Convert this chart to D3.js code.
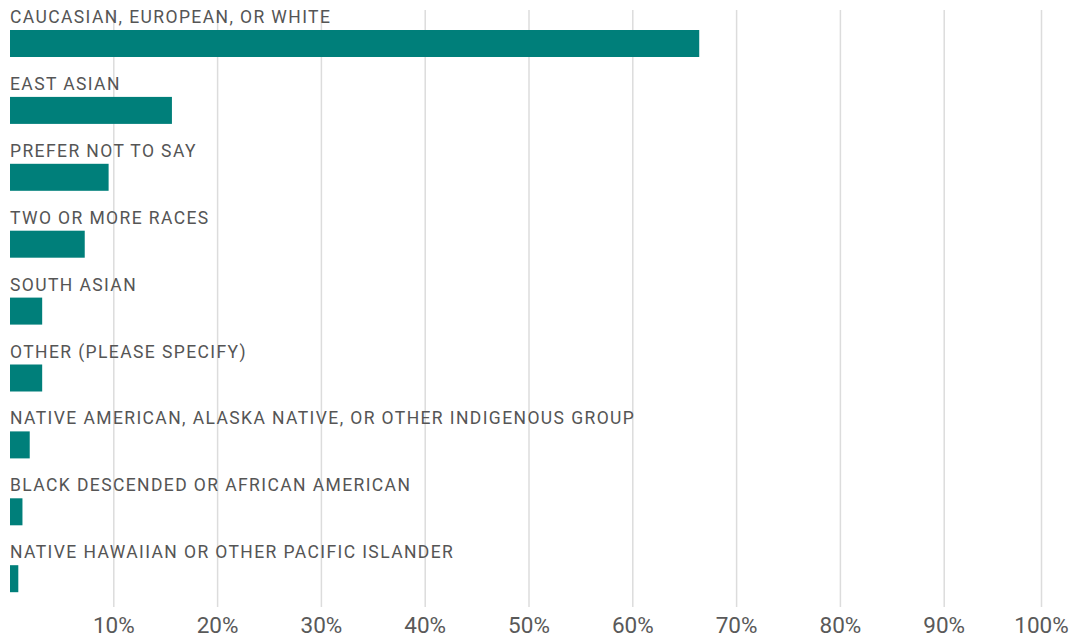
<!DOCTYPE html>
<html><head><meta charset="utf-8">
<script src="https://cdn.jsdelivr.net/npm/d3@7"></script>
<style>body{margin:0;background:#fff}svg{display:block}</style>
</head><body>
<svg id="c" width="1076" height="642"></svg>
<script>
const categories = [
  "CAUCASIAN, EUROPEAN, OR WHITE",
  "EAST ASIAN",
  "PREFER NOT TO SAY",
  "TWO OR MORE RACES",
  "SOUTH ASIAN",
  "OTHER (PLEASE SPECIFY)",
  "NATIVE AMERICAN, ALASKA NATIVE, OR OTHER INDIGENOUS GROUP",
  "BLACK DESCENDED OR AFRICAN AMERICAN",
  "NATIVE HAWAIIAN OR OTHER PACIFIC ISLANDER"
];
const values = [66.4, 15.6, 9.5, 7.2, 3.1, 3.1, 1.9, 1.2, 0.8];
const ticks = [10, 20, 30, 40, 50, 60, 70, 80, 90, 100];

const svg = d3.select("#c");
const x = d3.scaleLinear().domain([0, 100]).range([10, 1048]);
const y = d3.scaleBand().domain(categories).range([30 - 13, 30 - 13 + 66.9 * 9]).paddingInner(0).paddingOuter(0);

// gridlines
svg.append("g").selectAll("line").data(ticks).join("line")
  .attr("x1", d => Math.min(x(d), 1041.5)).attr("x2", d => Math.min(x(d), 1041.5))
  .attr("y1", 10).attr("y2", 607)
  .attr("stroke", "#dcdcdc").attr("stroke-width", 1.5);

svg.append("g").selectAll("text").data(ticks).join("text")
  .attr("x", d => Math.min(x(d), 1041.5)).attr("y", 633)
  .attr("text-anchor", "middle")
  .attr("font-family", "Roboto, 'Liberation Sans', sans-serif")
  .attr("font-size", 22.5).attr("fill", "#595959")
  .text(d => d + "%");

const rows = svg.append("g").selectAll("g").data(categories).join("g")
  .attr("transform", d => `translate(0,${y(d) + 13})`);

rows.append("rect")
  .attr("x", x(0)).attr("y", 0)
  .attr("width", (d, i) => x(values[i]) - x(0))
  .attr("height", 27)
  .attr("fill", "#007f7a");

rows.append("text")
  .attr("x", 10).attr("y", -7)
  .attr("font-family", "Roboto, 'Liberation Sans', sans-serif")
  .attr("font-size", 17.5).attr("letter-spacing", "1.4px")
  .attr("fill", "#555")
  .text(d => d);
</script>
</body></html>
